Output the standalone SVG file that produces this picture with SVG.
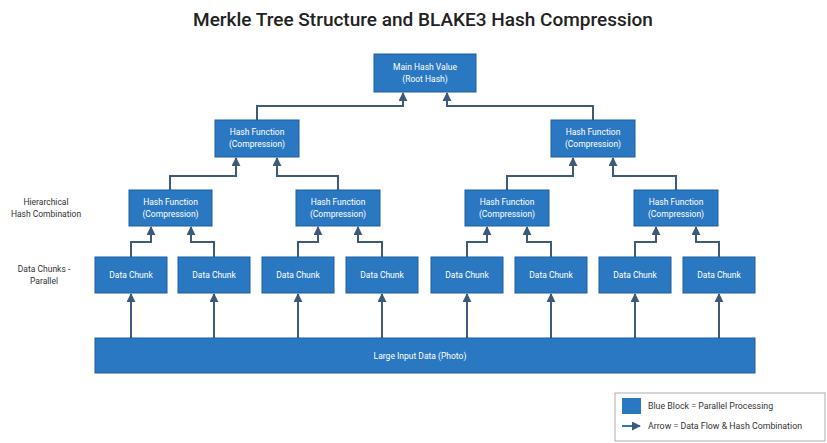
<svg xmlns="http://www.w3.org/2000/svg" width="827" height="443" viewBox="0 0 827 443">
<defs>
<marker id="ah" viewBox="0 0 10 10" refX="9" refY="5" markerWidth="4.5" markerHeight="4.5" orient="auto-start-reverse" markerUnits="strokeWidth">
<path d="M0,0 L10,5 L0,10 z" fill="#3d5a78"/>
</marker>
<style>
.box{fill:#2b78c2;stroke:#1e5e9c;stroke-width:1}
.nt{font-family:Roboto,"Liberation Sans",sans-serif;font-size:8.5px;fill:#ffffff;text-anchor:middle}
.lbl{font-family:Roboto,"Liberation Sans",sans-serif;font-size:8.5px;fill:#333333;text-anchor:middle}
.con{fill:none;stroke:#3d5a78;stroke-width:2;marker-end:url(#ah)}
.lg{font-family:Roboto,"Liberation Sans",sans-serif;font-size:8.8px;fill:#333333}
</style>
</defs>
<rect width="827" height="443" fill="#ffffff"/>
<text x="423" y="26" font-family="Roboto,'Liberation Sans',sans-serif" font-size="19" font-weight="500" fill="#222222" text-anchor="middle">Merkle Tree Structure and BLAKE3 Hash Compression</text>

<g id="connectors">
<path class="con" d="M257,120 V106 H403 V93"/>
<path class="con" d="M593,120 V106 H447 V93"/>
<path class="con" d="M170,190 V176 H236 V158"/>
<path class="con" d="M338,190 V176 H277 V158"/>
<path class="con" d="M507,190 V176 H573 V158"/>
<path class="con" d="M676,190 V176 H613 V158"/>
<path class="con" d="M131,257 V242 H151 V227"/>
<path class="con" d="M214,257 V242 H191 V227"/>
<path class="con" d="M298,257 V242 H318 V227"/>
<path class="con" d="M382,257 V242 H358 V227"/>
<path class="con" d="M467,257 V242 H487 V227"/>
<path class="con" d="M551,257 V242 H527 V227"/>
<path class="con" d="M635,257 V242 H656 V227"/>
<path class="con" d="M719,257 V242 H696 V227"/>
<path class="con" d="M131,338 V294"/>
<path class="con" d="M214,338 V294"/>
<path class="con" d="M298,338 V294"/>
<path class="con" d="M382,338 V294"/>
<path class="con" d="M467,338 V294"/>
<path class="con" d="M551,338 V294"/>
<path class="con" d="M635,338 V294"/>
<path class="con" d="M719,338 V294"/>
</g>

<g id="root"><rect class="box" x="374" y="54" width="102" height="38"/><text class="nt" x="425" y="70">Main Hash Value</text><text class="nt" x="425" y="82">(Root Hash)</text></g>

<g id="h2a"><rect class="box" x="215" y="120" width="84" height="37"/><text class="nt" x="257" y="135">Hash Function</text><text class="nt" x="257" y="147">(Compression)</text></g>
<g id="h2b"><rect class="box" x="551" y="120" width="84" height="37"/><text class="nt" x="593" y="135">Hash Function</text><text class="nt" x="593" y="147">(Compression)</text></g>

<g id="h3a"><rect class="box" x="129" y="190" width="83" height="36"/><text class="nt" x="170.5" y="205">Hash Function</text><text class="nt" x="170.5" y="217">(Compression)</text></g>
<g id="h3b"><rect class="box" x="296" y="190" width="84" height="36"/><text class="nt" x="338" y="205">Hash Function</text><text class="nt" x="338" y="217">(Compression)</text></g>
<g id="h3c"><rect class="box" x="465" y="190" width="84" height="36"/><text class="nt" x="507" y="205">Hash Function</text><text class="nt" x="507" y="217">(Compression)</text></g>
<g id="h3d"><rect class="box" x="634" y="190" width="84" height="36"/><text class="nt" x="676" y="205">Hash Function</text><text class="nt" x="676" y="217">(Compression)</text></g>

<g id="c1"><rect class="box" x="95" y="257" width="72" height="36"/><text class="nt" x="131" y="278">Data Chunk</text></g>
<g id="c2"><rect class="box" x="178" y="257" width="72" height="36"/><text class="nt" x="214" y="278">Data Chunk</text></g>
<g id="c3"><rect class="box" x="262" y="257" width="72" height="36"/><text class="nt" x="298" y="278">Data Chunk</text></g>
<g id="c4"><rect class="box" x="346" y="257" width="72" height="36"/><text class="nt" x="382" y="278">Data Chunk</text></g>
<g id="c5"><rect class="box" x="431" y="257" width="72" height="36"/><text class="nt" x="467" y="278">Data Chunk</text></g>
<g id="c6"><rect class="box" x="515" y="257" width="72" height="36"/><text class="nt" x="551" y="278">Data Chunk</text></g>
<g id="c7"><rect class="box" x="599" y="257" width="72" height="36"/><text class="nt" x="635" y="278">Data Chunk</text></g>
<g id="c8"><rect class="box" x="683" y="257" width="72" height="36"/><text class="nt" x="719" y="278">Data Chunk</text></g>

<g id="input"><rect class="box" x="95" y="338" width="660" height="35"/><text class="nt" x="420" y="359">Large Input Data (Photo)</text></g>

<g id="side-labels">
<text class="lbl" x="46" y="205">Hierarchical</text>
<text class="lbl" x="46" y="217">Hash Combination</text>
<text class="lbl" x="44" y="272">Data Chunks -</text>
<text class="lbl" x="44" y="284">Parallel</text>
</g>

<g id="legend">
<rect x="615" y="393" width="210" height="48" fill="#ffffff" stroke="#999999" stroke-width="0.8"/>
<rect x="622" y="398" width="19" height="16" fill="#2b78c2"/>
<text class="lg" x="648" y="409">Blue Block = Parallel Processing</text>
<path d="M622,426 H640" fill="none" stroke="#2b78c2" stroke-width="2" marker-end="url(#ah)"/>
<text class="lg" x="648" y="429">Arrow = Data Flow &amp; Hash Combination</text>
</g>
</svg>
